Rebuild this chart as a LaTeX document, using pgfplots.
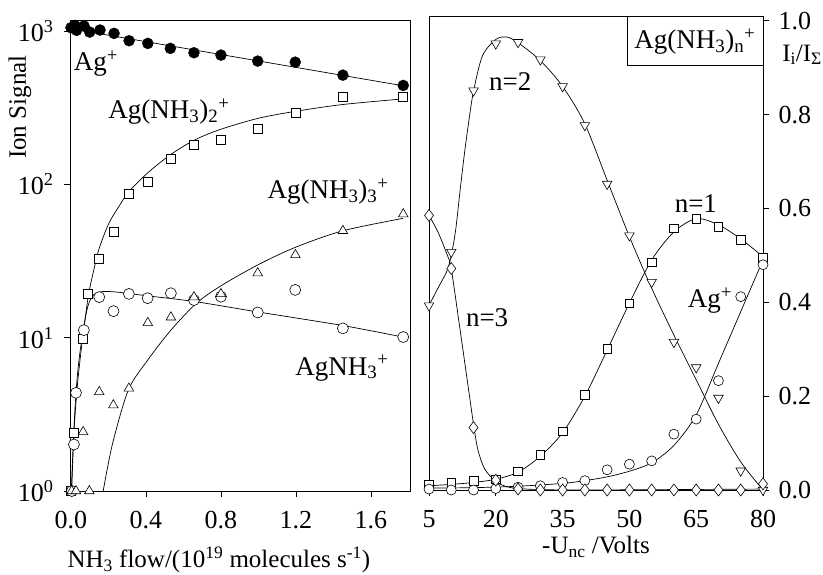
\documentclass[border=0pt]{standalone}
\usepackage{fontspec}
\setmainfont{Liberation Serif}
\usepackage{pgfplots}
\pgfplotsset{compat=1.18}

\newcommand{\fs}{\fontsize{27}{30}\selectfont}
\newcommand{\tk}{\fontsize{26}{28}\selectfont}
\newcommand{\lb}{\fontsize{25}{28}\selectfont}

\pgfplotsset{
  panel/.style={scale only axis, axis line style={line width=0.7pt},
    tick style={line width=0.7pt, black}, tick align=outside, major tick length=6pt,
    tick label style={font=\tk}, xticklabel style={yshift=-11pt}, clip mode=individual},
  fit/.style={black, line width=0.7pt, no marks, smooth},
  pts/.style={only marks, mark options={black, fill=white, line width=0.6pt}},
}

\begin{document}
\begin{tikzpicture}
\useasboundingbox (0,0) rectangle (823pt,575pt);

% left: ion signal against ammonia flow
\begin{axis}[panel, at={(70pt,84pt)}, anchor=south west, width=340pt, height=471pt,
  ymode=log, xmin=-0.005, xmax=1.808, ymin=1, ymax=1181,
  xtick={0,0.4,0.8,1.2,1.6}, xticklabels={0.0,0.4,0.8,1.2,1.6},
  ytick={1,10,100,1000},
  yticklabels={10\textsuperscript{0},10\textsuperscript{1},10\textsuperscript{2},10\textsuperscript{3}},
  yticklabel style={xshift=-7pt},
  yminorticks=false, xtick pos=left, ytick pos=left,
  xlabel={NH\textsubscript{3} flow/(10\textsuperscript{19} molecules s\textsuperscript{-1})},
  ylabel={Ion Signal},
  every axis x label/.style={at={(axis description cs:0.438,-0.146)}, anchor=center, font=\lb},
  every axis y label/.style={at={(axis description cs:-0.147,0.815)}, rotate=90, anchor=center, font=\lb}]

  \addplot[fit, smooth=false] coordinates {(0,1035) (1.77,440)};
  \addplot[fit] coordinates {(0.004,1) (0.016,2.4) (0.035,5) (0.062,9.9) (0.08,14.5) (0.095,19.5)
    (0.12,27) (0.15,38) (0.2,55) (0.25,70) (0.31,90) (0.41,119) (0.53,156) (0.66,195)
    (0.8,229) (1.0,270) (1.2,300) (1.45,332) (1.77,361)};
  \addplot[fit] coordinates {(0.002,1) (0.012,2) (0.027,4.4) (0.045,7.5) (0.07,12) (0.09,16)
    (0.12,19) (0.17,20) (0.25,19.8) (0.4,18.8) (0.66,17.2) (1.0,14.7) (1.45,12) (1.77,10.1)};
  \addplot[fit] coordinates {(0.172,1) (0.222,2.04) (0.306,4.55) (0.404,7) (0.533,11.2)
    (0.67,16.8) (0.8,21.8) (1.0,30) (1.2,39) (1.45,49.8) (1.77,60)};

  \addplot[only marks, mark=*, mark size=5.5pt, mark options={black, fill=black}] coordinates {
    (0,1052) (0.021,1089) (0.03,1011) (0.07,1079) (0.10,985) (0.155,1016) (0.23,966)
    (0.31,865) (0.41,831) (0.53,771) (0.656,722) (0.80,697) (0.996,637) (1.196,627)
    (1.45,516) (1.772,442)};
  \addplot[pts, mark=square*, mark size=4.5pt] coordinates {
    (0,1) (0.016,2.39) (0.062,9.9) (0.092,19.3) (0.151,32.7) (0.226,49.3) (0.309,86.5)
    (0.41,104) (0.533,147) (0.656,180) (0.80,196) (0.997,231) (1.197,293) (1.45,371) (1.772,371)};
  \addplot[pts, mark=*, mark size=5.5pt] coordinates {
    (0.005,1) (0.016,2.01) (0.027,4.37) (0.069,11.2) (0.151,18.4) (0.227,14.9) (0.309,19.3)
    (0.409,18.1) (0.533,19.5) (0.656,17.6) (0.80,18.5) (0.996,14.6) (1.196,20.5)
    (1.45,11.5) (1.772,10.1)};
  \addplot[pts, mark=triangle*, mark size=5.5pt] coordinates {
    (0.004,1) (0.027,1) (0.065,2.43) (0.098,1) (0.151,4.43) (0.226,3.63) (0.309,4.67)
    (0.41,12.5) (0.533,13.6) (0.656,18.4) (0.80,19.3) (0.996,26.4) (1.197,34.7)
    (1.45,49.8) (1.772,64)};

  \node[font=\fs] at (rel axis cs:0.076,0.907) {Ag\textsuperscript{+}};
  \node[font=\fs] at (rel axis cs:0.291,0.805) {Ag(NH\textsubscript{3})\textsubscript{2}\textsuperscript{+}};
  \node[font=\fs] at (rel axis cs:0.759,0.635) {Ag(NH\textsubscript{3})\textsubscript{3}\textsuperscript{+}};
  \node[font=\fs] at (rel axis cs:0.8,0.261) {AgNH\textsubscript{3}\textsuperscript{+}};
\end{axis}

% right: fractions against the nozzle voltage
\begin{axis}[panel, at={(429pt,85pt)}, anchor=south west, width=334pt, height=474pt,
  xmin=5, xmax=80, ymin=0, ymax=1.01,
  xtick={5,20,35,50,65,80}, xticklabels={5,20,35,50,65,80},
  ytick={0,0.2,0.4,0.6,0.8,1.0}, yticklabels={0.0,0.2,0.4,0.6,0.8,1.0},
  yticklabel style={xshift=6pt},
  xtick pos=left, ytick pos=right, yticklabel pos=right,
  xlabel={-U\textsubscript{nc} /Volts},
  ylabel={I\textsubscript{i}/I\textsubscript{Σ}},
  every axis x label/.style={at={(axis description cs:0.5,-0.12)}, anchor=center, font=\lb},
  every axis y label/.style={at={(axis description cs:1.117,0.918)}, anchor=center, font=\lb}]

  \addplot[fit] coordinates {(5,0.393) (7,0.43) (9,0.466) (10,0.50) (11,0.555) (12,0.64)
    (13,0.72) (14,0.79) (15,0.85) (17,0.925) (20,0.96) (22.5,0.965) (25,0.953) (30,0.915)
    (35,0.86) (40,0.78) (45,0.66) (50,0.54) (55,0.43) (60,0.33) (65,0.235) (70,0.14)
    (75,0.06) (80,0.0)};
  \addplot[fit] coordinates {(5,0.009) (10,0.012) (15,0.016) (20,0.023) (25,0.038) (30,0.072)
    (35,0.122) (40,0.2) (45,0.298) (50,0.398) (55,0.49) (60,0.55) (65,0.578) (70,0.565)
    (75,0.535) (80,0.497)};
  \addplot[fit] coordinates {(5,0.004) (15,0.005) (25,0.008) (35,0.014) (40,0.02) (45,0.028)
    (50,0.04) (55,0.058) (60,0.095) (65,0.16) (70,0.27) (75,0.38) (80,0.49)};
  \addplot[fit] coordinates {(5,0.585) (7,0.55) (9,0.503) (10,0.471) (12,0.34) (13.5,0.24)
    (15,0.14) (16,0.085) (17.5,0.045) (20,0.018) (22.5,0.007) (25,0.003) (30,0.001)
    (40,0.0) (80,0.002)};

  \addplot[only marks, mark=triangle*, mark size=5.5pt,
    mark options={black, fill=white, line width=0.6pt, rotate=180}] coordinates {
    (5,0.393) (10,0.507) (15,0.851) (20,0.951) (25,0.954) (30,0.917) (35,0.860) (40,0.777)
    (45,0.652) (50,0.542) (55,0.443) (60,0.315) (65,0.261) (70,0.196) (75,0.041) (80,0.0)};
  \addplot[pts, mark=square*, mark size=4.3pt] coordinates {
    (5,0.011) (10,0.016) (15,0.020) (20,0.023) (25,0.040) (30,0.075) (35,0.125) (40,0.203)
    (45,0.301) (50,0.398) (55,0.485) (60,0.558) (65,0.578) (70,0.561) (75,0.533) (80,0.495)};
  \addplot[pts, mark=*, mark size=5pt] coordinates {
    (5,0.002) (10,0.0) (15,0.0) (20,0.003) (25,0.006) (30,0.009) (35,0.016) (40,0.020)
    (45,0.043) (50,0.055) (55,0.062) (60,0.119) (65,0.151) (70,0.233) (75,0.412) (80,0.480)};
  \addplot[pts, mark=diamond*, mark size=6pt] coordinates {
    (5,0.585) (10,0.472) (15,0.133) (20,0.021) (25,0.002) (30,0) (35,0) (40,0) (45,0)
    (50,0) (55,0) (60,0) (65,0) (70,0) (75,0) (80,0.013)};

  \node[font=\fs] at (rel axis cs:0.243,0.861) {n=2};
  \node[font=\fs] at (rel axis cs:0.799,0.605) {n=1};
  \node[font=\fs] at (rel axis cs:0.174,0.363) {n=3};
  \node[font=\fs] at (rel axis cs:0.841,0.40) {Ag\textsuperscript{+}};
  \draw[line width=0.7pt] (rel axis cs:0.593,0.895) rectangle (rel axis cs:1,1);
  \node[font=\fs] at (rel axis cs:0.796,0.945) {Ag(NH\textsubscript{3})\textsubscript{n}\textsuperscript{+}};
\end{axis}
\end{tikzpicture}
\end{document}
